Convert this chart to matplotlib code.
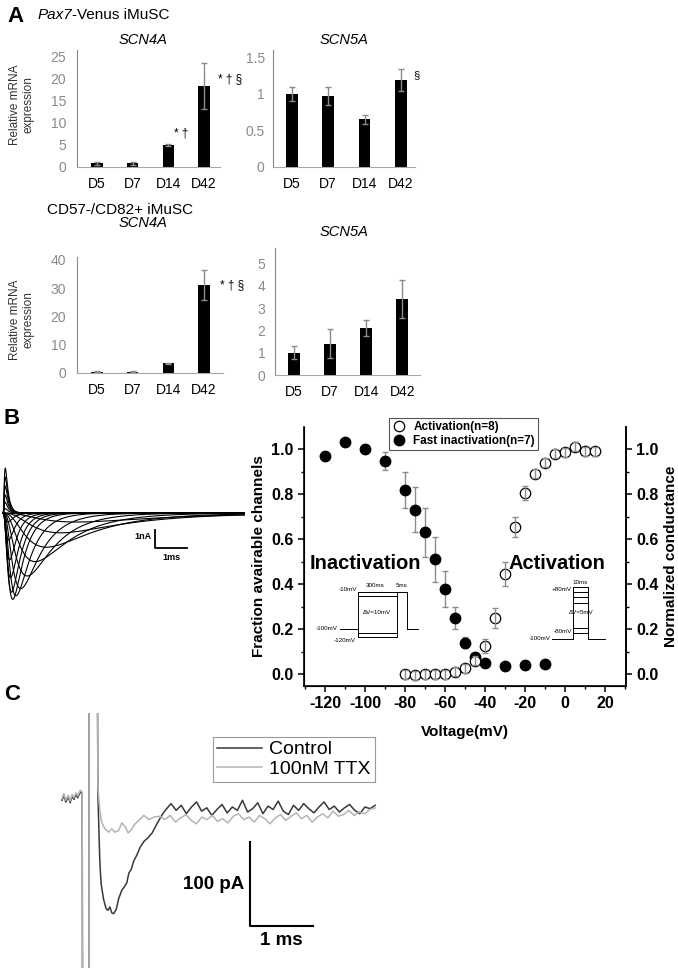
import numpy as np
import matplotlib
matplotlib.use("Agg")
from matplotlib import pyplot as plt
from matplotlib.ticker import MultipleLocator

W, H = 678, 968

# ---------------- Panel A: qPCR bars ----------------
days = ["D5", "D7", "D14", "D42"]
pax7_scn4a = [0.8, 0.8, 4.9, 18.4]
pax7_scn4a_err = [0.4, 0.4, 0.2, 5.2]
pax7_scn5a = [1.0, 0.97, 0.65, 1.19]
pax7_scn5a_err = [0.1, 0.12, 0.06, 0.15]
cd_scn4a = [0.5, 0.5, 3.4, 31.0]
cd_scn4a_err = [0.3, 0.3, 0.2, 5.3]
cd_scn5a = [1.0, 1.4, 2.1, 3.4]
cd_scn5a_err = [0.3, 0.65, 0.35, 0.85]

# ---------------- Panel B: current family (peak nA, tau_m, tau_h in ms) ----------------
trace_peak_nA = [2.5, 2.0, 1.5, 1.0, 0.6, 0.25,
                 -0.5, -1.5, -2.6, -3.6, -4.4, -4.8, -4.6, -4.2, -3.5, -2.7, -1.9, -1.1, -0.5]
trace_tau_m = [0.027] * 6 + [0.07, 0.08, 0.093, 0.107, 0.121, 0.14, 0.187, 0.257, 0.35,
                             0.467, 0.63, 0.84, 1.07]
trace_tau_h = [0.09] * 6 + [0.175, 0.2, 0.233, 0.268, 0.303, 0.35, 0.467, 0.643, 0.875,
                            1.17, 1.58, 2.1, 2.68]

# ---------------- Panel B: activation / inactivation ----------------
inact_v = [-120, -110, -100, -90, -80, -75, -70, -65, -60, -55, -50, -45, -40, -30, -20, -10]
inact_y = [0.97, 1.03, 1.0, 0.945, 0.82, 0.73, 0.63, 0.51, 0.38, 0.25, 0.14, 0.075, 0.05,
           0.035, 0.04, 0.045]
inact_err = [0, 0, 0, 0.04, 0.08, 0.1, 0.11, 0.1, 0.08, 0.05, 0.025, 0, 0, 0, 0, 0]
act_v = [-80, -75, -70, -65, -60, -55, -50, -45, -40, -35, -30, -25, -20, -15, -10, -5, 0, 5, 10, 15]
act_y = [0.0, -0.005, 0.0, 0.0, 0.0, 0.01, 0.025, 0.06, 0.125, 0.25, 0.445, 0.655, 0.805,
         0.89, 0.94, 0.98, 0.985, 1.01, 0.99, 0.99]
act_err = [0.02, 0.02, 0.02, 0.02, 0.02, 0.02, 0.02, 0.02, 0.03, 0.045, 0.055, 0.045, 0.03,
           0.02, 0.02, 0.02, 0.02, 0.02, 0.02, 0.02]

# ---------------- Panel C: TTX traces (ms, pA) ----------------
pre_t = [0.00, 0.03, 0.06, 0.10, 0.13, 0.16, 0.19, 0.22, 0.25, 0.29, 0.32]
pre_i = [14, 20, 12, 18, 11, 19, 15, 21, 17, 24, 22]
artifact_t = [0.33, 0.43, 0.43, 0.54, 0.55]
artifact_i = [-400, -400, 400, 400, 400]
ctrl_t = [0.57, 0.60, 0.62, 0.66, 0.70, 0.73, 0.76, 0.79, 0.82, 0.86, 0.90, 0.95, 0.99, 1.03,
          1.06, 1.10, 1.14, 1.19, 1.24, 1.30, 1.36, 1.43, 1.50, 1.56, 1.60]
ctrl_i = [20, -58, -85, -104, -115, -117, -113, -120, -121, -116, -103, -93, -89, -84,
          -73, -68, -58, -51, -42, -35, -31, -25, -15, -7, -2]
ctrl_tail = [3, 10, 2, 8, -2, 6, 12, 1, 5, -4, 3, 9, -1, 6, 2, 14, 0, 4, 11, -2, 7,
             3, 13, 1, -3, 8, 2, 10, 4, -1, 6, 12, 3, 7, 0, 5, 9, 2, -2, 6, 4, 8]
ttx_t = [0.57, 0.60, 0.63, 0.68, 0.74, 0.79, 0.84, 0.90, 0.95, 1.00, 1.05, 1.10, 1.16,
         1.22, 1.30, 1.38, 1.46]
ttx_i = [30, 2, -12, -20, -24, -20, -24, -22, -13, -17, -25, -21, -14, -10, -4, -9, -6]
ttx_tail = [-5, -9, -4, -12, -7, -3, -10, -14, -6, -9, -4, -11, -8, -13, -5, -2, -9, -6,
            -12, -4, -8, -14, -7, -3, -10, -5, -1, -8, -4, -12, -6, -2, -7, 1, -5, -3,
            2, -4, 0, -2, 3, 5]

plt.rcParams["font.family"] = ["Liberation Sans", "DejaVu Sans"]
plt.rcParams["axes.unicode_minus"] = False
fig = plt.figure(figsize=(W / 100, H / 100), dpi=100)


def px_axes(x0, y0, x1, y1, **kw):
    return fig.add_axes([x0 / W, 1 - y1 / H, (x1 - x0) / W, (y1 - y0) / H], **kw)


def px_text(x, y, s, **kw):
    fig.text(x / W, 1 - y / H, s, **kw)


def bar_panel(ax, vals, errs, ylim, yticks, ylabels, xlim, pad):
    x = np.arange(len(days))
    ax.bar(x, vals, width=0.32, color="black", zorder=2)
    ax.errorbar(x, vals, yerr=errs, fmt="none", ecolor="#8c8c8c", elinewidth=1,
                capsize=2.5, capthick=1, zorder=3)
    ax.set_xlim(*xlim)
    ax.set_ylim(*ylim)
    ax.set_yticks(yticks, ylabels)
    ax.set_xticks(x, days)
    ax.tick_params(axis="both", length=0, labelsize=10)
    ax.tick_params(axis="y", labelcolor="#8a8a8a", pad=pad)
    ax.tick_params(axis="x", pad=7)
    for s in ["top", "right"]:
        ax.spines[s].set_visible(False)
    ax.spines["left"].set_color("#8a8a8a")
    ax.spines["bottom"].set_color("#a8a8a8")


# ---- A ----
px_text(15, 17, "A", fontsize=16, fontweight="bold", ha="center", va="center")
px_text(38, 15, "Pax7", fontsize=11, style="italic", va="center")
px_text(72, 15, "-Venus iMuSC", fontsize=11, va="center")
px_text(120, 210, "CD57-/CD82+ iMuSC", fontsize=11, ha="center", va="center")
px_text(143, 40, "SCN4A", fontsize=10.5, style="italic", ha="center", va="center")
px_text(344, 40, "SCN5A", fontsize=10.5, style="italic", ha="center", va="center")
px_text(143, 223, "SCN4A", fontsize=10.5, style="italic", ha="center", va="center")
px_text(344, 232, "SCN5A", fontsize=10.5, style="italic", ha="center", va="center")
px_text(22, 105, "Relative mRNA\nexpression", fontsize=8.5, rotation=90,
        ha="center", va="center", color="#333333")
px_text(22, 320, "Relative mRNA\nexpression", fontsize=8.5, rotation=90,
        ha="center", va="center", color="#333333")

ax1 = px_axes(77, 50, 220, 167)
bar_panel(ax1, pax7_scn4a, pax7_scn4a_err, (0, 26.5), [0, 5, 10, 15, 20, 25],
          ["0", "5", "10", "15", "20", "25"], (-0.56, 3.45), 8)
ax1.text(2.35, 7.7, "* †", fontsize=8.5, ha="center", va="center")
ax1.text(3.72, 19.8, "* † §", fontsize=8.5, ha="center", va="center")

ax2 = px_axes(273, 50, 415, 167)
bar_panel(ax2, pax7_scn5a, pax7_scn5a_err, (0, 1.6), [0, 0.5, 1, 1.5],
          ["0", "0.5", "1", "1.5"], (-0.52, 3.39), 6)
ax2.text(3.42, 1.26, "§", fontsize=8, ha="center", va="center")

ax3 = px_axes(77, 257, 223, 373)
bar_panel(ax3, cd_scn4a, cd_scn4a_err, (0, 41), [0, 10, 20, 30, 40],
          ["0", "10", "20", "30", "40"], (-0.56, 3.53), 8)
ax3.text(3.78, 31, "* † §", fontsize=8.5, ha="center", va="center")

ax4 = px_axes(275, 248, 420, 375)
bar_panel(ax4, cd_scn5a, cd_scn5a_err, (0, 5.7), [0, 1, 2, 3, 4, 5],
          ["0", "1", "2", "3", "4", "5"], (-0.52, 3.49), 7)

# ---- B: current traces ----
px_text(12, 418, "B", fontsize=16, fontweight="bold", ha="center", va="center")
axT = px_axes(0, 440, 245, 610)
t = np.linspace(0, 7.6, 900)
for amp, tm, th in zip(trace_peak_nA, trace_tau_m, trace_tau_h):
    f = (1 - np.exp(-t / tm)) ** 3 * np.exp(-t / th)
    axT.plot(t, amp * f / f.max(), color="black", lw=0.8)
axT.set_xlim(-0.1, 7.56)
axT.set_ylim(-5.39, 4.06)
axT.axis("off")
axT.plot([4.75, 4.75, 5.75], [-0.94, -1.94, -1.94], color="black", lw=1.3)
axT.text(4.65, -1.33, "1nA", fontsize=6.5, fontweight="bold", ha="right", va="center")
axT.text(5.25, -2.45, "1ms", fontsize=6.5, fontweight="bold", ha="center", va="center")

# ---- B: activation / inactivation ----
axB = px_axes(304, 427, 626, 686)
axB.errorbar(inact_v, inact_y, yerr=inact_err, fmt="none", ecolor="#8c8c8c",
             elinewidth=1, capsize=2.5, zorder=2)
h_inact, = axB.plot(inact_v, inact_y, "o", ms=7.5, mfc="black", mec="black",
                    zorder=3, label="Fast inactivation(n=7)")
axB.set_xlim(-130.5, 30.5)
axB.set_ylim(-0.053, 1.098)
axB.xaxis.set_major_locator(MultipleLocator(20))
axB.xaxis.set_minor_locator(MultipleLocator(10))
axB.yaxis.set_major_locator(MultipleLocator(0.2))
axB.yaxis.set_minor_locator(MultipleLocator(0.1))
axB.yaxis.set_major_formatter(lambda v, p: f"{v:.1f}")
axB.spines["top"].set_visible(False)
for s in axB.spines.values():
    s.set_linewidth(1.2)
axB.tick_params(which="major", length=4, width=1.1, labelsize=11.5)
axB.tick_params(which="minor", length=2.5, width=1)
for lab in axB.get_xticklabels() + axB.get_yticklabels():
    lab.set_fontweight("bold")
axB.set_xlabel("Voltage(mV)", fontsize=11, fontweight="bold", labelpad=10)
axB.set_ylabel("Fraction avairable channels", fontsize=11, fontweight="bold", labelpad=4)

axB2 = axB.twinx()
h_act, = axB2.plot(act_v, act_y, "o", ms=7.5, mfc="white", mec="black", mew=0.9,
                   zorder=2, label="Activation(n=8)")
axB2.errorbar(act_v, act_y, yerr=act_err, fmt="none", ecolor="#8c8c8c",
              elinewidth=1, capsize=2.5, zorder=3)
axB2.set_ylim(-0.053, 1.098)
axB2.yaxis.set_major_locator(MultipleLocator(0.2))
axB2.yaxis.set_minor_locator(MultipleLocator(0.1))
axB2.yaxis.set_major_formatter(lambda v, p: f"{v:.1f}")
axB2.spines["top"].set_visible(False)
axB2.spines["right"].set_linewidth(1.2)
axB2.tick_params(which="major", length=4, width=1.1, labelsize=11.5)
axB2.tick_params(which="minor", length=2.5, width=1)
for lab in axB2.get_yticklabels():
    lab.set_fontweight("bold")
axB2.set_ylabel("Normalized conductance", fontsize=11, fontweight="bold", labelpad=4)
leg = axB2.legend(handles=[h_act, h_inact], loc="upper left", bbox_to_anchor=(0.264, 1.035),
                  borderaxespad=0, prop={"weight": "bold", "size": 8.5}, fancybox=False,
                  edgecolor="#555555", framealpha=1, handletextpad=0.6, borderpad=0.25,
                  labelspacing=0.2, handlelength=1.2)
leg.get_frame().set_linewidth(0.8)

axB.text(-100, 0.49, "Inactivation", fontsize=14.5, fontweight="bold", ha="center", va="center")
axB2.text(-4, 0.49, "Activation", fontsize=14.5, fontweight="bold", ha="center", va="center")

# inactivation protocol schematic (x: schematic time, y: mV)
inact_levels = [-10, -20, -110, -120]
axP1 = px_axes(300, 575, 420, 645)
axP1.set_xlim(-4, 8)
axP1.set_ylim(-139.6, 31.6)
axP1.axis("off")
kw = dict(color="black", lw=0.7)
axP1.plot([0, 1.8], [-100, -100], **kw)
axP1.plot([6.7, 7.8], [-100, -100], **kw)
axP1.plot([1.8, 1.8], [-120, -10], **kw)
axP1.plot([5.7, 5.7], [-120, -10], **kw)
for lv in inact_levels:
    axP1.plot([1.8, 5.7], [lv, lv], **kw)
axP1.plot([5.7, 6.7, 6.7], [-10, -10, -100], **kw)
sk = dict(fontsize=4.5, va="center")
axP1.text(1.7, -5, "-10mV", ha="right", **sk)
axP1.text(3.5, 6, "300ms", ha="center", **sk)
axP1.text(6.2, 6, "5ms", ha="center", **sk)
axP1.text(3.7, -61, "ΔV=10mV", ha="center", **sk)
axP1.text(-0.2, -100, "-100mV", ha="right", **sk)
axP1.text(1.6, -128, "-120mV", ha="right", **sk)

# activation protocol schematic
act_levels = [-80, -63, 26, 44, 62, 80]
axP2 = px_axes(520, 575, 620, 650)
axP2.set_xlim(-3.2, 6.8)
axP2.set_ylim(-139, 121.7)
axP2.axis("off")
axP2.plot([0, 2.1], [-100, -100], **kw)
axP2.plot([3.6, 5.3], [-100, -100], **kw)
axP2.plot([2.1, 2.1], [-100, 80], **kw)
axP2.plot([3.6, 3.6], [-100, 80], **kw)
for lv in act_levels:
    axP2.plot([2.1, 3.6], [lv, lv], **kw)
axP2.text(2.0, 73, "+80mV", ha="right", **sk)
axP2.text(2.85, 97, "10ms", ha="center", **sk)
axP2.text(2.9, -10, "ΔV=5mV", ha="center", **sk)
axP2.text(2.0, -73, "-80mV", ha="right", **sk)
axP2.text(-0.1, -100, "-100mV", ha="right", **sk)

# ---- C ----
px_text(12, 695, "C", fontsize=16, fontweight="bold", ha="center", va="center")
axC = px_axes(55, 713, 390, 968)
ctrl_x = pre_t + artifact_t + ctrl_t + list(np.linspace(1.65, 4.97, len(ctrl_tail)))
ctrl_y = pre_i + artifact_i + ctrl_i + ctrl_tail
ttx_x = pre_t + artifact_t + ttx_t + list(np.linspace(1.55, 4.97, len(ttx_tail)))
ttx_y = [v + 2 for v in pre_i] + artifact_i + ttx_i + ttx_tail
axC.plot(ctrl_x, ctrl_y, color="#383838", lw=1.1, label="Control")
axC.plot(ttx_x, ttx_y, color="#b4b4b4", lw=1.1, label="100nM TTX")
axC.set_xlim(-0.111, 5.206)
axC.set_ylim(-185.7, 117.9)
axC.axis("off")
axC.plot([2.98, 2.98, 3.98], [-35.7, -135.7, -135.7], color="black", lw=1.5)
axC.text(2.9, -86, "100 pA", fontsize=13.5, fontweight="bold", ha="right", va="center")
axC.text(3.48, -153, "1 ms", fontsize=13.5, fontweight="bold", ha="center", va="center")
legC = axC.legend(loc="upper left", bbox_to_anchor=(0.4716, 0.906), borderaxespad=0,
                  fontsize=14, fancybox=False, edgecolor="#999999", framealpha=1,
                  handlelength=2.3, handletextpad=0.4, borderpad=0.2, labelspacing=0.1)
legC.get_frame().set_linewidth(0.8)

fig.savefig("out.png", dpi=100)
